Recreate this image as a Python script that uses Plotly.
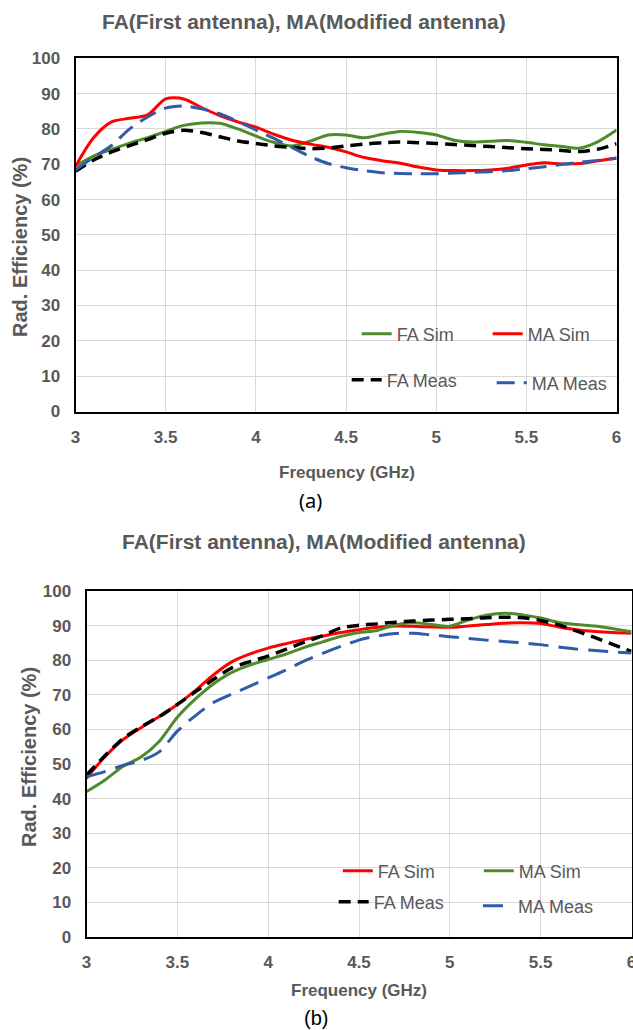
import plotly.graph_objects as go

# ---------------- data ----------------
freq = [3.0, 3.1, 3.2, 3.3, 3.4, 3.5, 3.6, 3.7, 3.8, 3.9, 4.0,
        4.1, 4.2, 4.3, 4.4, 4.5, 4.6, 4.7, 4.8, 4.9, 5.0,
        5.1, 5.2, 5.3, 5.4, 5.5, 5.6, 5.7, 5.8, 5.9, 6.0]

# panel (a)
a_fa_sim = [69.5, 72.3, 74.2, 76.0, 77.5, 79.3, 81.0, 81.7, 81.6, 80.0, 78.0,
            76.2, 75.2, 76.5, 78.3, 78.3, 77.5, 78.5, 79.3, 79.0, 78.3,
            76.8, 76.3, 76.5, 76.7, 76.2, 75.5, 75.0, 74.6, 76.5, 79.7]
a_ma_sim = [69.4, 77.5, 82.0, 83.0, 84.0, 88.5, 88.5, 86.0, 83.8, 82.0, 80.5,
            78.5, 76.8, 75.7, 74.8, 73.5, 71.9, 71.0, 70.3, 69.2, 68.4,
            68.2, 68.2, 68.4, 68.9, 69.8, 70.4, 70.1, 70.2, 71.0, 71.8]
a_fa_meas = [68.0, 71.2, 73.5, 75.3, 77.0, 78.8, 79.6, 79.0, 77.8, 76.6, 75.9,
             75.2, 74.8, 74.4, 74.6, 75.2, 75.7, 76.1, 76.3, 76.1, 75.9,
             75.6, 75.3, 75.0, 74.7, 74.4, 74.2, 73.9, 73.6, 74.3, 75.8]
a_ma_meas = [68.4, 72.0, 75.3, 80.0, 83.4, 85.9, 86.5, 85.7, 84.3, 82.1, 79.7,
             77.3, 74.8, 72.2, 70.2, 69.0, 68.2, 67.6, 67.4, 67.3, 67.3,
             67.5, 67.7, 67.9, 68.2, 68.7, 69.3, 70.0, 70.6, 71.1, 71.7]

# panel (b)
b_fa_sim = [45.9, 52.0, 57.0, 60.5, 63.7, 67.2, 71.3, 75.8, 79.5, 81.8, 83.5,
            84.8, 86.0, 87.0, 88.0, 88.8, 89.5, 89.9, 89.8, 89.6, 89.5,
            89.9, 90.3, 90.7, 90.8, 90.6, 89.6, 88.8, 88.3, 88.0, 87.8]
b_ma_sim = [42.0, 45.3, 49.3, 52.0, 56.5, 63.5, 68.8, 73.2, 76.5, 78.6, 80.2,
            81.8, 83.7, 85.3, 86.9, 88.0, 88.6, 90.2, 90.8, 90.3, 89.8,
            91.6, 93.0, 93.6, 93.1, 92.2, 90.9, 90.3, 89.9, 89.1, 88.2]
b_fa_meas = [46.8, 52.3, 57.3, 60.7, 63.7, 67.2, 70.9, 74.5, 77.8, 79.6, 81.2,
             83.2, 85.2, 87.1, 89.3, 90.1, 90.5, 91.0, 91.3, 91.6, 91.8,
             92.0, 92.3, 92.4, 92.3, 91.5, 90.2, 88.4, 86.5, 84.5, 82.5]
b_ma_meas = [46.3, 47.8, 49.6, 51.0, 53.5, 59.5, 64.0, 67.8, 70.2, 72.5, 74.9,
             77.2, 79.8, 82.0, 84.0, 85.8, 87.0, 87.7, 87.8, 87.3, 86.8,
             86.3, 85.8, 85.4, 85.0, 84.5, 83.8, 83.2, 82.8, 82.4, 82.1]

x_ticks = [3, 3.5, 4, 4.5, 5, 5.5, 6]
x_tick_labels = ["3", "3.5", "4", "4.5", "5", "5.5", "6"]
y_ticks = [0, 10, 20, 30, 40, 50, 60, 70, 80, 90, 100]
y_tick_labels = [str(v) for v in y_ticks]

title_text = "FA(First antenna), MA(Modified antenna)"
x_title = "Frequency (GHz)"
y_title = "Rad. Efficiency (%)"

# ---------------- styling ----------------
W, H = 633, 1030
GRAY = "#595959"
GREEN = "#4F8A2B"
RED = "#FF0000"
BLUE = "#2F5BA8"
SANS = "Liberation Sans, Arial, sans-serif"


def px(x):
    return x / W


def py(y):
    return 1 - y / H


fig = go.Figure()

traces_a = [
    ("FA Sim", a_fa_sim, dict(color=GREEN, width=3), "legend"),
    ("MA Sim", a_ma_sim, dict(color=RED, width=3), "legend2"),
    ("FA Meas", a_fa_meas, dict(color="black", width=3.5, dash="12px,7px"), "legend3"),
    ("MA Meas", a_ma_meas, dict(color=BLUE, width=3, dash="18px,9px"), "legend4"),
]
traces_b = [
    ("FA Sim", b_fa_sim, dict(color=RED, width=3), "legend5"),
    ("MA Sim", b_ma_sim, dict(color=GREEN, width=3), "legend6"),
    ("FA Meas", b_fa_meas, dict(color="black", width=3.5, dash="12px,7px"), "legend7"),
    ("MA Meas", b_ma_meas, dict(color=BLUE, width=3, dash="20px,10px"), "legend8"),
]

for name, vals, line, lg in traces_a:
    fig.add_trace(go.Scatter(x=freq, y=vals, mode="lines", name=name,
                             line=dict(shape="spline", smoothing=0.8, **line),
                             xaxis="x", yaxis="y", legend=lg))
for name, vals, line, lg in traces_b:
    fig.add_trace(go.Scatter(x=freq, y=vals, mode="lines", name=name,
                             line=dict(shape="spline", smoothing=0.8, **line),
                             xaxis="x2", yaxis="y2", legend=lg))

tickfont = dict(family=SANS, size=17, color=GRAY, weight="bold")


def xax(domain, anchor):
    return dict(domain=domain, anchor=anchor, range=[3, 6],
                tickmode="array", tickvals=x_ticks, ticktext=x_tick_labels,
                showgrid=True, gridcolor="#D9D9D9", gridwidth=1,
                showline=True, linecolor="black", linewidth=2, mirror=True,
                zeroline=False, ticks="", tickfont=tickfont,
                ticklabelstandoff=9, ticklabeloverflow="allow",
                fixedrange=True, automargin=False)


def yax(domain, anchor):
    return dict(domain=domain, anchor=anchor, range=[0, 100],
                tickmode="array", tickvals=y_ticks, ticktext=y_tick_labels,
                showgrid=True, gridcolor="#D9D9D9", gridwidth=1,
                showline=True, linecolor="black", linewidth=2, mirror=True,
                zeroline=False, ticks="", tickfont=tickfont,
                ticklabelstandoff=10, ticklabeloverflow="allow",
                fixedrange=True, automargin=False)


legfont = dict(family=SANS, size=18, color=GRAY)


def leg(x0, yc):
    return dict(x=px(x0), y=py(yc), xanchor="left", yanchor="middle",
                bgcolor="rgba(0,0,0,0)", borderwidth=0, font=legfont,
                itemwidth=30, tracegroupgap=0)


def ann(text, x, y, font, angle=0):
    return dict(text=text, x=px(x), y=py(y), xref="paper", yref="paper",
                xanchor="center", yanchor="middle", textangle=angle,
                showarrow=False, font=font)


titlefont = dict(family=SANS, size=21, color=GRAY, weight="bold")
xtfont = dict(family=SANS, size=17, color=GRAY, weight="bold")
ytfont = dict(family=SANS, size=20, color=GRAY, weight="bold")

annotations = [
    ann(title_text, 303.5, 22, titlefont),
    ann(title_text, 324, 541, titlefont),
    ann(x_title, 346.5, 472, xtfont),
    ann(x_title, 359, 990, xtfont),
    ann(y_title, 20, 247, ytfont, -90),
    ann(y_title, 29, 757, ytfont, -90),
    ann("(a)", 310, 500, dict(family="Noto Sans, sans-serif", size=20, color="black")),
    ann("(b)", 316, 1018, dict(family=SANS, size=20, color="black")),
]

fig.update_layout(
    width=W, height=H,
    margin=dict(l=0, r=0, t=0, b=0, autoexpand=False),
    paper_bgcolor="white", plot_bgcolor="white",
    xaxis=xax([px(75.5), px(616.6)], "y"),
    yaxis=yax([py(411.5), py(58.3)], "x"),
    xaxis2=xax([px(86.5), px(631.5)], "y2"),
    yaxis2=yax([py(937), py(591)], "x2"),
    legend=leg(356.7, 334),
    legend2=leg(487.7, 334),
    legend3=leg(346.7, 380),
    legend4=leg(491.7, 383),
    legend5=leg(337.8, 871),
    legend6=leg(478.8, 871),
    legend7=leg(333.7, 902),
    legend8=leg(478.0, 906),
    annotations=annotations,
    showlegend=True,
    hovermode=False,
)

fig.write_html("out.html", config={"displayModeBar": False},
               post_script="document.body.style.margin='0px';")
